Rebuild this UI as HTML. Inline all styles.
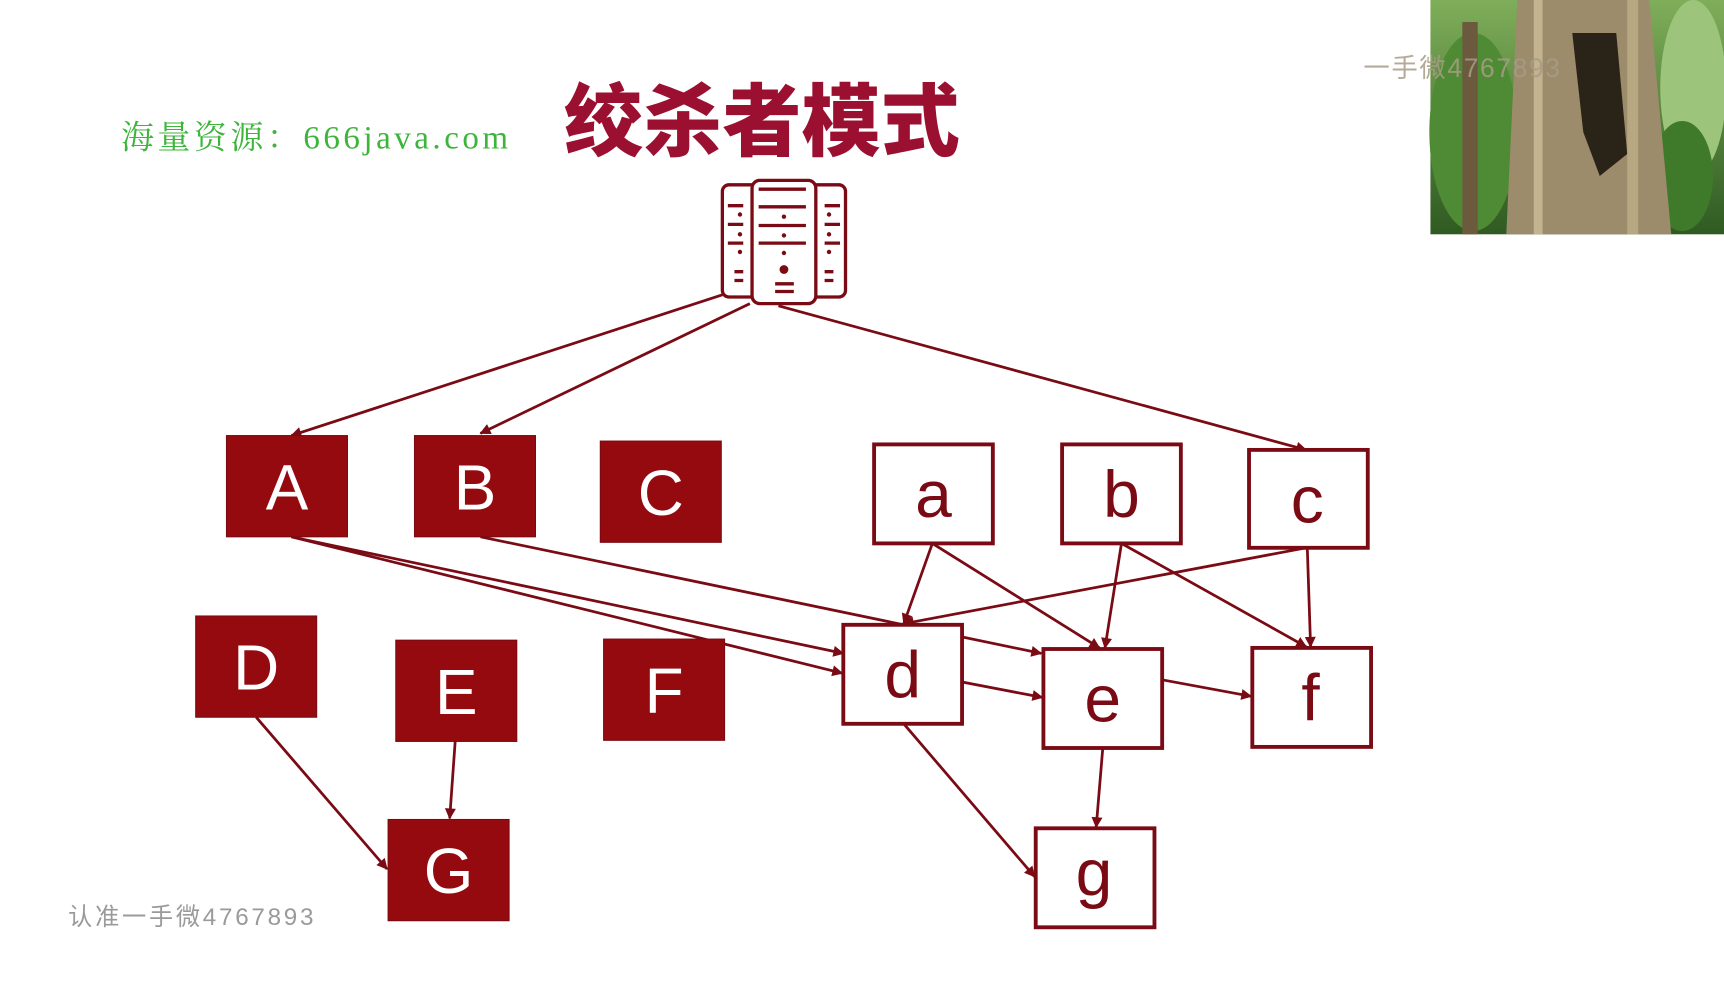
<!DOCTYPE html>
<html><head><meta charset="utf-8"><style>html,body{margin:0;padding:0;background:#fff;overflow:hidden}svg{display:block}</style></head>
<body>
<svg width="1724" height="1001" viewBox="0 0 1568 910" preserveAspectRatio="none" xmlns="http://www.w3.org/2000/svg">
<defs>
<marker id="ar" viewBox="0 0 10 10" refX="9" refY="5" markerWidth="11" markerHeight="10" orient="auto" markerUnits="userSpaceOnUse"><path d="M0,0 L10,5 L0,10 z" fill="#7a0a14"/></marker>
<linearGradient id="sky" x1="0" y1="0" x2="0" y2="1"><stop offset="0" stop-color="#7fae5a"/><stop offset="1" stop-color="#2f5a22"/></linearGradient>
</defs>
<rect width="1568" height="910" fill="#fff"/>
<rect x="1301" y="0" width="267" height="213" fill="url(#sky)"/>
<ellipse cx="1340" cy="120" rx="40" ry="90" fill="#4f8a34"/>
<ellipse cx="1540" cy="80" rx="30" ry="80" fill="#9cc47a"/>
<ellipse cx="1530" cy="160" rx="28" ry="50" fill="#3f7a2a"/>
<rect x="1330" y="20" width="14" height="193" fill="#6b5a3e"/>
<path d="M1380,0 L1500,0 L1520,213 L1370,213 Z" fill="#9c8c6c"/>
<path d="M1430,30 L1470,30 L1480,140 L1455,160 L1440,120 Z" fill="#2a2418"/>
<rect x="1395" y="0" width="8" height="213" fill="#c3b48f"/>
<rect x="1480" y="0" width="10" height="213" fill="#b8a882"/>
<text x="1240" y="70" font-family="Liberation Sans,'Noto Sans CJK SC',sans-serif" font-size="24" letter-spacing="1.5" fill="#a89c86" opacity="0.85">一手微4767893</text>
<text x="110" y="135" font-family="'Liberation Serif','Noto Serif CJK SC',serif" font-size="30" letter-spacing="3.2" fill="#3db43a">海量资源：666java.com</text>
<text x="513" y="136" font-family="'Liberation Sans','Noto Sans CJK SC',sans-serif" font-weight="900" font-size="72" fill="#9b1030">绞杀者模式</text>
<g fill="none" stroke="#7a0a14" stroke-width="3">
<rect x="657" y="168" width="32" height="102" rx="6"/>
<rect x="737" y="168" width="32" height="102" rx="6"/>
<rect x="684" y="164" width="58" height="112" rx="7" fill="#fff"/>
<path d="M690,172h43M690,188h43M690,205h43M690,221h43M705,258h17M705,265h17"/>
<path d="M662,187h14M662,204h14M662,221h14M668,247h8M668,255h8M750,187h14M750,204h14M750,221h14M750,247h8M750,255h8"/>
</g>
<g fill="#7a0a14"><circle cx="713" cy="197" r="2"/><circle cx="713" cy="214" r="2"/><circle cx="713" cy="230" r="2"/><circle cx="713" cy="245" r="4"/><circle cx="673" cy="195" r="2"/><circle cx="673" cy="213" r="2"/><circle cx="673" cy="229" r="2"/><circle cx="754" cy="195" r="2"/><circle cx="754" cy="213" r="2"/><circle cx="754" cy="229" r="2"/></g>
<g stroke="#7a0a14" stroke-width="2.5" fill="none" marker-end="url(#ar)">
<line x1="657" y1="268" x2="265" y2="396"/>
<line x1="682" y1="276" x2="437" y2="394"/>
<line x1="708" y1="278" x2="1188" y2="409"/>
<line x1="265" y1="488" x2="766" y2="612"/>
<line x1="265" y1="488" x2="767" y2="594" marker-end=""/>
<line x1="437" y1="488" x2="947" y2="594"/>
<line x1="848" y1="494" x2="822" y2="567"/>
<line x1="848" y1="494" x2="1000" y2="589"/>
<line x1="1020" y1="494" x2="1005" y2="589"/>
<line x1="1020" y1="494" x2="1188" y2="588"/>
<line x1="1188" y1="498" x2="822" y2="567"/>
<line x1="1189" y1="498" x2="1192" y2="588"/>
<line x1="875" y1="620" x2="948" y2="634"/>
<line x1="1057" y1="618" x2="1138" y2="633"/>
<line x1="1003" y1="680" x2="997" y2="752"/>
<line x1="822" y1="658" x2="941" y2="797"/>
<line x1="233" y1="652" x2="352" y2="790"/>
<line x1="414" y1="674" x2="409" y2="744"/>
</g>
<g fill="#950a0f" stroke="#7a0a10" stroke-width="1">
<rect x="206" y="396" width="110" height="92"/>
<rect x="377" y="396" width="110" height="92"/>
<rect x="546" y="401" width="110" height="92"/>
<rect x="178" y="560" width="110" height="92"/>
<rect x="360" y="582" width="110" height="92"/>
<rect x="549" y="581" width="110" height="92"/>
<rect x="353" y="745" width="110" height="92"/>
</g>
<g font-family="'Liberation Sans',sans-serif" font-size="58" fill="#fff" text-anchor="middle">
<text x="261" y="463">A</text><text x="432" y="463">B</text><text x="601" y="468">C</text>
<text x="233" y="627">D</text><text x="415" y="649">E</text><text x="604" y="648">F</text><text x="408" y="812">G</text>
</g>
<g fill="#fff" stroke="#7a0a14" stroke-width="3.5">
<rect x="795" y="404" width="108" height="90"/>
<rect x="966" y="404" width="108" height="90"/>
<rect x="1136" y="409" width="108" height="89"/>
<rect x="767" y="568" width="108" height="90"/>
<rect x="949" y="590" width="108" height="90"/>
<rect x="1139" y="589" width="108" height="90"/>
<rect x="942" y="753" width="108" height="90"/>
</g>
<g font-family="'Liberation Sans',sans-serif" font-size="60" fill="#7a0a14" text-anchor="middle">
<text x="849" y="470">a</text><text x="1020" y="470">b</text><text x="1189" y="475">c</text>
<text x="821" y="634">d</text><text x="1003" y="656">e</text><text x="1192" y="655">f</text><text x="995" y="814">g</text>
</g>
<text x="62" y="841" font-family="'Liberation Sans','Noto Sans CJK SC',sans-serif" font-size="22" letter-spacing="2.5" fill="#9a9a9a">认准一手微4767893</text>
</svg>
</body></html>
